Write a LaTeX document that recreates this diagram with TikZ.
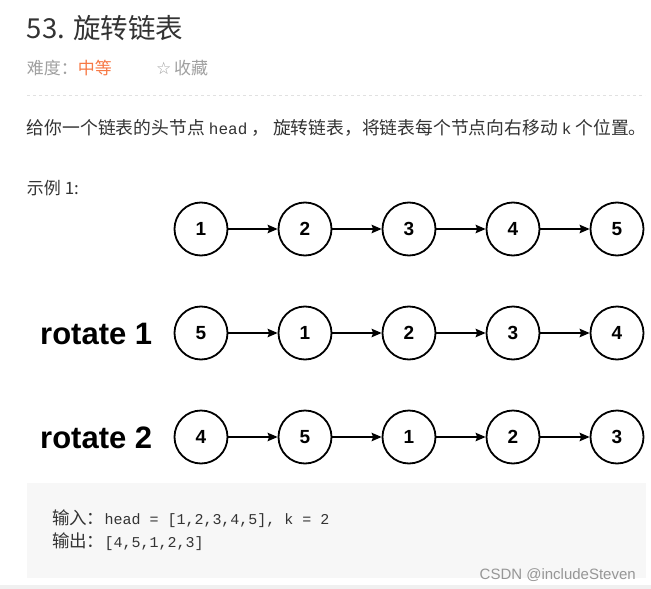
\documentclass[tikz,border=0pt]{standalone}
\usepackage{fontspec}
\setmainfont{Liberation Sans}
\newfontfamily\cjk{Noto Sans CJK SC}
\newfontfamily\mono{Liberation Mono}
\newfontfamily\djv{DejaVu Sans}
\usetikzlibrary{arrows.meta}
\definecolor{txt}{RGB}{51,51,51}
\definecolor{graytxt}{RGB}{160,160,160}
\definecolor{midorange}{RGB}{247,121,69}
\definecolor{codebg}{RGB}{247,247,247}
\definecolor{dashgray}{RGB}{225,225,225}
\definecolor{wmark}{RGB}{150,150,150}
\tikzset{
  txtnode/.style={inner sep=0pt, outer sep=0pt, anchor=base west, text=txt},
  llnode/.style={circle, draw=black, line width=1.8pt, minimum size=53pt, inner sep=0pt,
    font=\bfseries\fontsize{19}{19}\selectfont},
  arr/.style={line width=1.4pt, -{Stealth[length=10pt,width=8.5pt,inset=1.5pt]}},
  rotlabel/.style={inner sep=0pt, anchor=base west, font=\bfseries\fontsize{31}{31}\selectfont}
}
\begin{document}
\begin{tikzpicture}[x=1pt,y=-1pt]
\useasboundingbox (0,0) rectangle (651,589);
\fill[white] (0,0) rectangle (651,589);
% header
\node[txtnode] (title) at (27,38) {\fontsize{27.5}{30}\selectfont\cjk 53. 旋转链表};
\node[txtnode, text=graytxt] (diff) at (27,74.5) {\fontsize{17}{20}\selectfont\cjk 难度：\textcolor{midorange}{中等}};
\node[txtnode, text=graytxt] (fav) at (156,74.5) {\fontsize{17}{20}\selectfont{\djv ☆}\,{\cjk 收藏}};
\draw[dashgray, line width=1pt, dash pattern=on 3pt off 3pt] (27,95) -- (645,95);
\node[txtnode] (desc) at (27,134.5) {\fontsize{17.8}{20}\selectfont\cjk 给你一个链表的头节点\ {\mono\fontsize{16}{18}\selectfont head}\ ，\ 旋转链表，将链表每个节点向右移动\ {\mono\fontsize{16}{18}\selectfont k}\ 个位置。};
\node[txtnode] (ex) at (27,194.5) {\fontsize{17}{20}\selectfont\cjk 示例 1:};
% linked lists
\foreach \v [count=\i] in {1,2,3,4,5} {
  \node[llnode] (n1-\i) at ({201+104*(\i-1)},229) {\v};
}
\foreach \v [count=\i] in {5,1,2,3,4} {
  \node[llnode] (n2-\i) at ({201+104*(\i-1)},333) {\v};
}
\foreach \v [count=\i] in {4,5,1,2,3} {
  \node[llnode] (n3-\i) at ({201+104*(\i-1)},437) {\v};
}
\foreach \r in {1,2,3}{
  \foreach \i in {1,...,4}{
    \pgfmathtruncatemacro\j{\i+1}
    \draw[arr] (n\r-\i) -- (n\r-\j);
  }
}
\node[rotlabel] (rot1) at (40,344) {rotate 1};
\node[rotlabel] (rot2) at (40,448) {rotate 2};
% code block
\fill[codebg] (27,483) rectangle (646,578);
\fill[black!6] (0,585) rectangle (651,589);
\node[txtnode] (inp) at (52,524.5) {\fontsize{17.5}{20}\selectfont\cjk 输入：{\mono\fontsize{15}{18}\selectfont head = [1,2,3,4,5], k = 2}};
\node[txtnode] (outp) at (52,547.5) {\fontsize{17.5}{20}\selectfont\cjk 输出：{\mono\fontsize{15}{18}\selectfont [4,5,1,2,3]}};
\node[inner sep=0pt, anchor=base east, text=wmark] (wm) at (636,579) {\fontsize{15}{15}\selectfont CSDN @includeSteven};
\end{tikzpicture}
\end{document}
